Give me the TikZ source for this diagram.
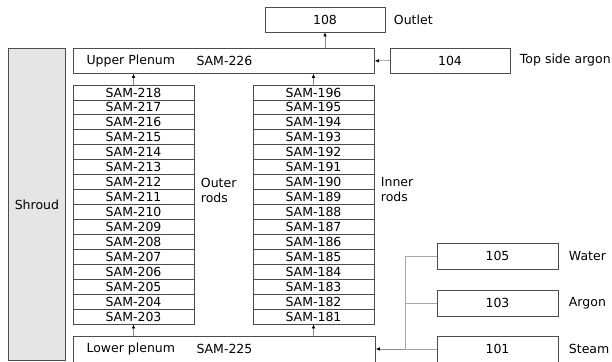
\documentclass[tikz,border=0pt]{standalone}
\usepackage{fontspec}
\setmainfont{DejaVu Sans}
\usetikzlibrary{positioning,arrows.meta}

\tikzset{
  blk/.style={draw=black!70, line width=0.8pt, inner sep=0pt},
  rodbox/.style={blk, minimum width=121pt, minimum height=14.94pt},
  feedbox/.style={blk, minimum width=121pt, minimum height=26pt},
  flow/.style={draw=black!45, line width=0.6pt, -{Latex[length=4pt,width=3.5pt,black]}},
  tap/.style={draw=black!35, line width=0.8pt},
}

\begin{document}
\begin{tikzpicture}[x=1pt,y=-1pt,font=\fontsize{12.5}{14}\selectfont]
  \useasboundingbox (0,0) rectangle (612,361);
  % shroud and plena
  \node[blk, fill=black!10, minimum width=57pt, minimum height=312pt, anchor=north west] (shroud) at (8,48) {};
  \node at (shroud.center) {Shroud};
  \node[blk, minimum width=301pt, minimum height=25pt, anchor=north west] (upper) at (73,48) {};
  \node[anchor=west] at ([xshift=10pt]upper.west) {Upper Plenum};
  \node[anchor=west] at ([xshift=120pt]upper.west) {SAM-226};
  \node[blk, minimum width=302pt, minimum height=26pt, anchor=north west] (lower) at (73,336) {};
  \node[anchor=west] at ([xshift=10pt]lower.west) {Lower plenum};
  \node[anchor=west] at ([xshift=120pt]lower.west) {SAM-225};

  % rods
  \foreach \n [count=\i from 0] in {218,217,...,203}{
    \node[rodbox] (o\n) at (133.5,{92.47+\i*14.94}) {SAM-\n};
  }
  \foreach \n [count=\i from 0] in {196,195,...,181}{
    \node[rodbox] (r\n) at (313.5,{92.47+\i*14.94}) {SAM-\n};
  }
  \node[anchor=west, align=left, xshift=3pt] at (o212.south east) {Outer\\[1pt]rods};
  \node[anchor=west, align=left, xshift=3pt] at (r190.south east) {Inner\\[1pt]rods};

  % boundaries
  \node[blk, minimum width=120pt, minimum height=25pt] (outlet) at (325,19.5) {108};
  \node[anchor=west, xshift=5pt] at (outlet.east) {Outlet};
  \node[blk, minimum width=120pt, minimum height=25pt] (topar) at (450,60.5) {104};
  \node[anchor=west, xshift=6pt] at (topar.east) {Top side argon};
  \node[feedbox] (water) at (497.5,256) {105};
  \node[anchor=west, xshift=7pt] at (water.east) {Water};
  \node[feedbox] (argon) at (497.5,303) {103};
  \node[anchor=west, xshift=7pt] at (argon.east) {Argon};
  \node[feedbox] (steam) at (497.5,349) {101};
  \node[anchor=west, xshift=7pt] at (steam.east) {Steam};
  \coordinate (jn) at (405,349);

  % connections
  \draw[flow] (o203.south |- lower.north) -- (o203.south);
  \draw[flow] (r181.south |- lower.north) -- (r181.south);
  \draw[flow] (o218.north) -- (o218.north |- upper.south);
  \draw[flow] (r196.north) -- (r196.north |- upper.south);
  \draw[flow] (outlet.south |- upper.north) -- (outlet.south);
  \draw[flow] (topar.west) -- (upper.east);
  \draw[tap] (water.west) -| (jn);
  \draw[tap] (argon.west) -- (argon.west -| jn);
  \draw[tap] (steam.west) -- (jn);
  \draw[flow] (jn) -- (jn -| lower.east);
\end{tikzpicture}
\end{document}
